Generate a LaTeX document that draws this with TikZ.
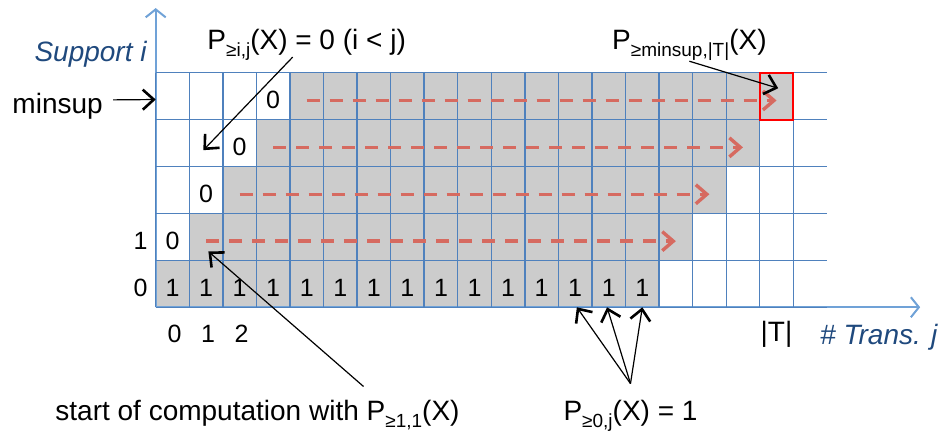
\documentclass[tikz,border=0pt]{standalone}
\usepackage{fontspec}
\setmainfont{Liberation Sans}
\usetikzlibrary{arrows.meta,positioning,calc}
\definecolor{cGrid}{RGB}{79,129,189}
\definecolor{cAxis}{RGB}{112,162,215}
\definecolor{cFill}{RGB}{204,204,204}
\definecolor{cRun}{RGB}{214,106,96}
\definecolor{cMark}{RGB}{255,0,0}
\definecolor{cLabel}{RGB}{31,73,125}
\newcommand{\psub}[1]{\raisebox{-3.5pt}{\fontsize{9.5}{11}\selectfont #1}}

\begin{document}
\begin{tikzpicture}[x=16.78pt,y=23.45pt,
  lbl/.style={inner sep=0pt,font=\fontsize{14}{16}\selectfont},
  axislbl/.style={inner sep=0pt,font=\fontsize{14}{16}\selectfont\itshape,text=cLabel},
  num/.style={inner sep=0pt,anchor=base,font=\fontsize{12.5}{15}\selectfont},
  gridline/.style={cGrid,line width=0.7pt},
  axis/.style={cAxis,line width=1pt,-{Straight Barb[length=4pt,width=10pt]}},
  run/.style={cRun,line width=1.7pt,dash pattern=on 6.5pt off 5pt,
    -{Straight Barb[length=5.5pt,width=9.5pt]}},
  pointer/.style={line width=0.6pt,-{Straight Barb[length=5.5pt,width=10pt,line width=1.3pt]}}]
  \useasboundingbox (-4.64,-2.744) rectangle (23.52,6.552);
  % Filled cells
  \foreach \r in {0,...,4}
    \fill[cFill] (\r,\r) rectangle (\r+15,\r+1);
  % Axes
  \draw[axis] (0,0) -- (22.78,0);
  \draw[axis] (0,0) -- (0,6.38);
  % Grid
  \foreach \r in {0,...,5}
    \draw[gridline] (0,\r) -- (20,\r);
  \foreach \c in {0,...,19}
    \draw[gridline] (\c,0) -- (\c,5);
  \draw[cMark,line width=1pt] (18,4) rectangle (19,5);
  % Cell values
  \foreach \c in {0,...,14}
    \node[num] (one\c) at (\c+0.5,0.23) {1};
  \foreach \r in {1,...,4}
    \node[num] (zero\r) at (\r-0.5,\r+0.23) {0};
  % Row and column numbers
  \node[num] (row0) at (-0.45,0.23) {0};
  \node[num] (row1) at (-0.45,1.23) {1};
  \foreach \c in {0,1,2}
    \node[num] (col\c) at (\c+0.56,-0.755) {\c};
  \node[lbl,anchor=base] (colT) at (18.5,-0.72) {|T|};
  % Computation runs
  \foreach \r in {1,...,4}
    \draw[run] (\r+0.5,\r+0.41) -- (\r+14.5,\r+0.41);
  % Axis labels
  \node[axislbl,anchor=base east] (support) at (-0.26,5.25) {Support i};
  \node[axislbl,anchor=base west] (trans) at (19.79,-0.80) {\# Trans. j};
  % Annotations
  \node[lbl,anchor=base west] (minsup) at (-4.28,4.14) {minsup};
  \node[lbl,anchor=base west] (lblZero) at (1.53,5.49) {P\psub{≥i,j}(X) = 0 (i < j)};
  \node[lbl,anchor=base west] (lblCap) at (13.59,5.49) {P\psub{≥minsup,|T|}(X)};
  \node[lbl,anchor=base west] (lblStart) at (-3.0,-2.41) {start of computation with P\psub{≥1,1}(X)};
  \node[lbl,anchor=base west] (lblOne) at (12.14,-2.41) {P\psub{≥0,j}(X) = 1};
  \coordinate (minsupTip) at (0,4.43);
  \coordinate (zeroTip) at (1.42,3.35);
  \coordinate (capTip) at (18.55,4.67);
  \coordinate (startTip) at (1.57,1.19);
  \coordinate (fan) at ([yshift=8pt]lblOne.north);
  \coordinate (oneA) at (12.55,0);
  \coordinate (oneB) at (13.45,0);
  \coordinate (oneC) at (14.5,0);
  % Pointers
  \draw[pointer] ([shift={(5pt,3pt)}]minsup.east) -- (minsupTip);
  \draw[pointer] ([xshift=-7pt,yshift=2pt]lblZero.south) -- (zeroTip);
  \draw[pointer] (lblCap.south) -- (capTip);
  \draw[pointer] ([shift={(3.16,0.28)}]lblStart.north) -- (startTip);
  \draw[pointer] (fan) -- (oneA);
  \draw[pointer] (fan) -- (oneB);
  \draw[pointer] (fan) -- (oneC);
\end{tikzpicture}
\end{document}
